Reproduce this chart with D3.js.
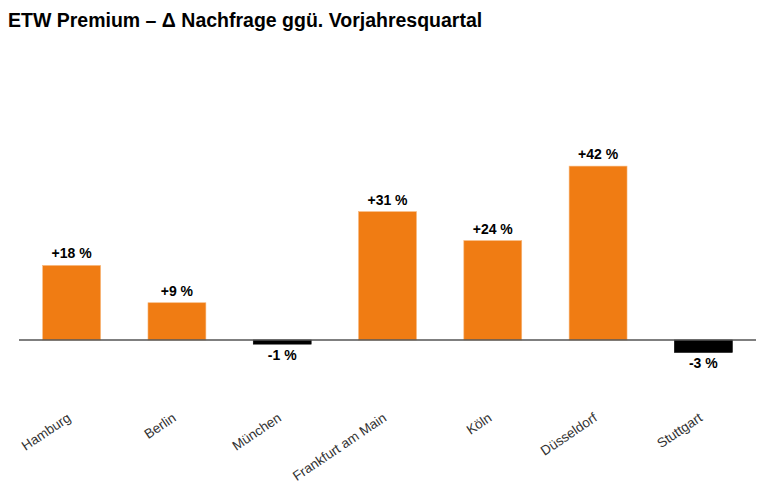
<!DOCTYPE html>
<html>
<head>
<meta charset="utf-8">
<script src="https://cdn.jsdelivr.net/npm/d3@7"></script>
<style>
  body { margin: 0; background: #fff; font-family: Arial, "Liberation Sans", sans-serif; }
</style>
</head>
<body>
<script>
const cities = ["Hamburg", "Berlin", "München", "Frankfurt am Main", "Köln", "Düsseldorf", "Stuttgart"];
const changes = [18, 9, -1, 31, 24, 42, -3];

const POS_COLOR = "#f07c13";
const NEG_COLOR = "#000";

let width = 770, height = 491;

let svg = d3.select("body").append("svg").attr("width", width).attr("height", height);

svg.append("text")
    .attr("x", 8).attr("y", 27)
    .attr("font-size", "19.5px").attr("font-weight", "bold")
    .attr("fill", "#000")
    .text("ETW Premium – Δ Nachfrage ggü. Vorjahresquartal");

let x = d3.scaleBand().domain(cities).range([19, 756]).paddingInner(0.45).paddingOuter(0.225);
let y = d3.scaleLinear().domain([-5, 50]).range([360.7, 133]);

let data = cities.map((c, i) => ({ city: c, v: changes[i] }));

svg.append("g").selectAll("rect").data(data).join("rect")
    .attr("x", d => x(d.city))
    .attr("width", x.bandwidth())
    .attr("y", d => y(Math.max(0, d.v)))
    .attr("height", d => Math.abs(y(d.v) - y(0)))
    .attr("fill", d => d.v >= 0 ? POS_COLOR : NEG_COLOR)
    .attr("stroke", d => d.v >= 0 ? "#f7b67a" : "#000")
    .attr("stroke-width", 0.6);

// zero line
svg.append("line")
    .attr("x1", 19).attr("x2", 756)
    .attr("y1", y(0)).attr("y2", y(0))
    .attr("stroke", "#555").attr("stroke-width", 1.5);

svg.append("g").selectAll("text").data(data).join("text")
    .attr("x", d => x(d.city) + x.bandwidth() / 2)
    .attr("y", d => d.v >= 0 ? y(d.v) - 7 : y(d.v) + 16)
    .attr("text-anchor", "middle")
    .attr("font-size", "14px").attr("font-weight", "bold")
    .attr("fill", "#000")
    .text(d => (d.v > 0 ? "+" : "") + d.v + " %");

let xAxis = svg.append("g")
    .attr("transform", "translate(0,410)")
    .call(d3.axisBottom(x).tickSize(0).tickPadding(0));
xAxis.select(".domain").remove();
xAxis.selectAll("text")
    .attr("font-family", "Arial, 'Liberation Sans', sans-serif")
    .attr("font-size", "13.5px")
    .attr("fill", "#333")
    .attr("text-anchor", "end")
    .attr("dy", null)
    .attr("transform", "translate(0,10) rotate(-34)");
</script>
</body>
</html>
